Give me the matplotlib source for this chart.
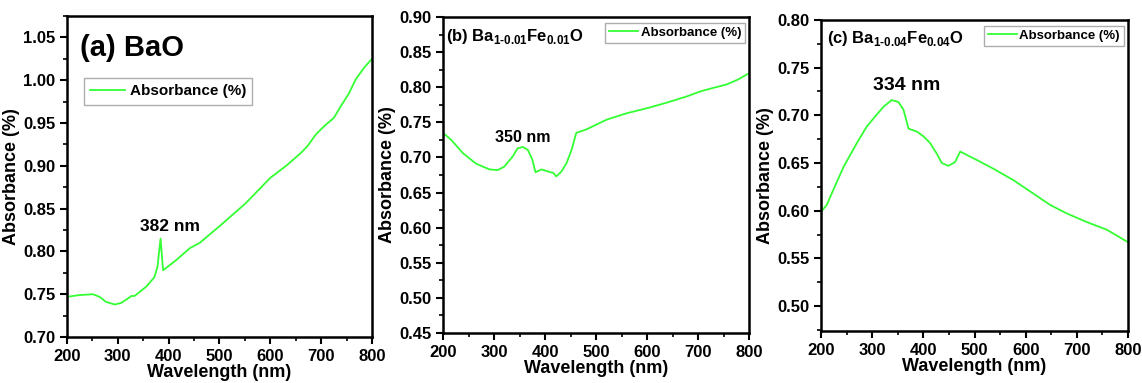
import matplotlib.pyplot as plt
from matplotlib.ticker import MultipleLocator

plt.rcParams['font.family'] = ['Liberation Sans', 'DejaVu Sans']
plt.rcParams['font.weight'] = 'bold'
plt.rcParams['mathtext.fontset'] = 'custom'
plt.rcParams['mathtext.rm'] = 'Liberation Sans:bold'
plt.rcParams['mathtext.bf'] = 'Liberation Sans:bold'

# (a) BaO
wl_a = [200, 224, 251, 264, 277, 294, 307, 327, 333, 356, 372, 378, 384, 389, 415, 442,
        461, 501, 551, 600, 633, 660, 673, 690, 709, 725, 739, 755, 768, 785, 800]
abs_a = [0.747, 0.749, 0.750, 0.747, 0.741, 0.738, 0.740, 0.748, 0.748, 0.759, 0.770,
         0.782, 0.815, 0.778, 0.790, 0.804, 0.810, 0.830, 0.856, 0.886, 0.901, 0.915,
         0.923, 0.937, 0.948, 0.956, 0.970, 0.985, 1.001, 1.015, 1.025]

# (b) Ba1-0.01Fe0.01O
wl_b = [200, 216, 239, 265, 291, 307, 320, 337, 346, 356, 366, 375, 381, 393, 406, 416,
        422, 432, 442, 452, 461, 481, 521, 560, 599, 638, 678, 704, 729, 756, 778, 800]
abs_b = [0.735, 0.725, 0.706, 0.691, 0.683, 0.682, 0.687, 0.702, 0.713, 0.715, 0.711,
         0.697, 0.679, 0.683, 0.680, 0.678, 0.673, 0.680, 0.692, 0.711, 0.735, 0.740,
         0.754, 0.763, 0.770, 0.778, 0.787, 0.794, 0.799, 0.804, 0.811, 0.820]

# (c) Ba1-0.04Fe0.04O
wl_c = [200, 211, 224, 244, 270, 289, 306, 322, 338, 351, 361, 371, 387, 400, 413, 426,
        436, 449, 462, 472, 505, 537, 576, 615, 648, 681, 720, 759, 800]
abs_c = [0.599, 0.606, 0.622, 0.646, 0.671, 0.688, 0.699, 0.709, 0.716, 0.714, 0.706,
         0.686, 0.683, 0.678, 0.671, 0.660, 0.650, 0.647, 0.651, 0.662, 0.653, 0.644,
         0.632, 0.618, 0.606, 0.597, 0.588, 0.580, 0.567]

green = '#33ff33'

fig = plt.figure(figsize=(11.42, 3.83), dpi=100)
ax_a = fig.add_axes([0.0587, 0.120, 0.267, 0.838])
ax_b = fig.add_axes([0.388, 0.1305, 0.268, 0.825])
ax_c = fig.add_axes([0.719, 0.136, 0.2687, 0.812])

panels = [
    (ax_a, wl_a, abs_a, (0.70, 1.075)),
    (ax_b, wl_b, abs_b, (0.45, 0.90)),
    (ax_c, wl_c, abs_c, (0.474, 0.80)),
]

for ax, x, y, ylim in panels:
    ax.plot(x, y, color=green, lw=1.3, label='Absorbance (%)')
    ax.set_xlim(200, 800)
    ax.set_ylim(*ylim)
    ax.xaxis.set_major_locator(MultipleLocator(100))
    ax.xaxis.set_minor_locator(MultipleLocator(50))
    ax.yaxis.set_major_locator(MultipleLocator(0.05))
    ax.yaxis.set_minor_locator(MultipleLocator(0.025))
    ax.yaxis.set_major_formatter(plt.FormatStrFormatter('%.2f'))
    ax.tick_params(which='major', direction='out', length=5, width=1.5, labelsize=12)
    ax.tick_params(which='minor', direction='out', length=3, width=1.2)
    for s in ax.spines.values():
        s.set_linewidth(1.8)
    ax.set_xlabel('Wavelength (nm)', fontsize=13, fontweight='bold', labelpad=0)
    ax.set_ylabel('Absorbance (%)', fontsize=13, fontweight='bold', labelpad=2)

ax_a.text(0.043, 0.90, '(a) BaO', transform=ax_a.transAxes, fontsize=21,
          fontweight='bold', va='center')
ax_a.legend(loc='upper left', bbox_to_anchor=(0.03, 0.83), fontsize=11,
            fancybox=False, edgecolor='#999999', handlelength=2.3,
            handletextpad=0.3, borderpad=0.4)
ax_a.text(402, 0.829, '382 nm', fontsize=12.5, fontweight='bold', ha='center', va='center')

ax_b.text(0.01, 0.94, r'(b) Ba$_{\text{1-0.01}}$Fe$_{\text{0.01}}$O',
          transform=ax_b.transAxes, fontsize=12, fontweight='bold', va='center')
ax_b.legend(loc='upper right', bbox_to_anchor=(0.995, 0.99), fontsize=9.5,
            fancybox=False, edgecolor='#999999', handlelength=2.2,
            handletextpad=0.2, borderpad=0.3, borderaxespad=0.2)
ax_b.text(357, 0.729, '350 nm', fontsize=11.5, fontweight='bold', ha='center', va='center')

ax_c.text(0.02, 0.94, r'(c) Ba$_{\text{1-0.04}}$Fe$_{\text{0.04}}$O',
          transform=ax_c.transAxes, fontsize=12, fontweight='bold', va='center')
ax_c.legend(loc='upper right', bbox_to_anchor=(0.995, 0.99), fontsize=9.5,
            fancybox=False, edgecolor='#999999', handlelength=2.2,
            handletextpad=0.2, borderpad=0.3, borderaxespad=0.2)
ax_c.text(368, 0.731, '334 nm', fontsize=14, fontweight='bold', ha='center', va='center')

fig.savefig('out.png', dpi=100)
